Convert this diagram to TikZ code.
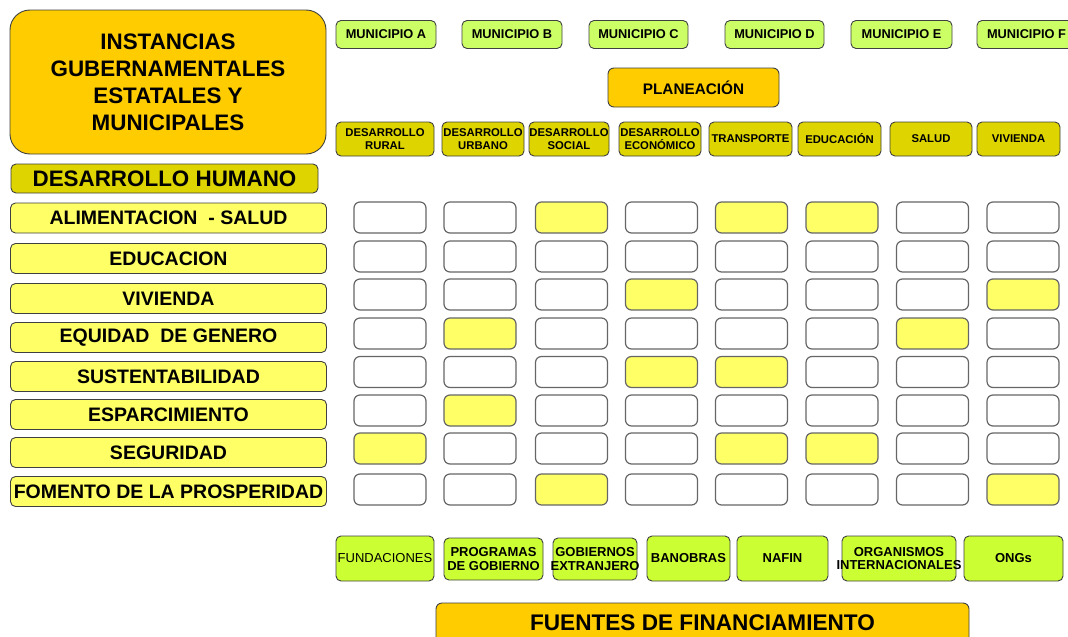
\documentclass[tikz,border=0pt]{standalone}
\usepackage{fontspec}
\setmainfont{Liberation Sans}
\definecolor{naranja}{HTML}{FFCC00}
\definecolor{olivo}{HTML}{DDD400}
\definecolor{amarillo}{HTML}{FFFF66}
\definecolor{lima}{HTML}{CCFF66}
\definecolor{limafuerte}{HTML}{CCFF33}
\newcommand{\desborde}[1]{\makebox[\linewidth]{#1}}

\begin{document}
\begin{tikzpicture}[x=1pt,y=-1pt,
        caja/.style={draw=black!75, line width=0.9pt, rounded corners=5pt, inner sep=0pt, align=center, text=black},
        municipio/.style={caja, fill=lima, minimum width=99pt, minimum height=28pt, font=\bfseries\fontsize{12.8}{14}\selectfont},
        rubro/.style={caja, fill=olivo, minimum height=34pt, font=\bfseries\fontsize{11.3}{12.8}\selectfont},
        tema/.style={caja, fill=amarillo, minimum width=316pt, minimum height=30pt, font=\bfseries\fontsize{19.5}{21}\selectfont},
        celda/.style={draw=black!60, line width=1.2pt, rounded corners=6pt, minimum width=72pt, minimum height=31pt},
        fuente/.style={caja, fill=limafuerte, minimum height=45pt, font=\bfseries\fontsize{13}{13.5}\selectfont}]

        \clip (0,0) rectangle (1068,637);

        \node[caja, fill=naranja, rounded corners=20pt, minimum width=316pt, minimum height=144pt,
            font=\bfseries\fontsize{22.4}{27}\selectfont] (instancias) at (168,82)
            {INSTANCIAS\\GUBERNAMENTALES\\ESTATALES Y\\MUNICIPALES};
        \node[caja, fill=olivo, minimum width=307pt, minimum height=29pt,
            font=\bfseries\fontsize{22.4}{24}\selectfont] (humano) at (164.5,178.5) {DESARROLLO HUMANO};

        \node[municipio, minimum width=100pt] (munA) at (386,34.5) {MUNICIPIO A};
        \node[municipio, minimum width=100pt] (munB) at (512,34.5) {MUNICIPIO B};
        \node[municipio] (munC) at (638.5,34.5) {MUNICIPIO C};
        \node[municipio] (munD) at (774.5,34.5) {MUNICIPIO D};
        \node[municipio, minimum width=101pt] (munE) at (901.5,34.5) {MUNICIPIO E};
        \node[municipio] (munF) at (1026.5,34.5) {MUNICIPIO F};

        \node[caja, fill=naranja, rounded corners=6pt, minimum width=171pt, minimum height=39pt,
            font=\bfseries\fontsize{15.3}{17}\selectfont] (planeacion) at (693.5,87.5) {PLANEACIÓN};

        \node[rubro, minimum width=98pt] (rural) at (385,139) {DESARROLLO\\RURAL};
        \node[rubro, minimum width=82pt] (urbano) at (483,139) {DESARROLLO\\URBANO};
        \node[rubro, minimum width=80pt] (social) at (569,139) {DESARROLLO\\SOCIAL};
        \node[rubro, minimum width=82pt] (economico) at (660,139) {DESARROLLO\\ECONÓMICO};
        \node[rubro, minimum width=83pt] (transporte) at (750.5,139) {TRANSPORTE};
        \node[rubro, minimum width=83pt] (educacion) at (839.5,139) {EDUCACIÓN};
        \node[rubro, minimum width=82pt] (salud) at (931,139) {SALUD};
        \node[rubro, minimum width=83pt] (vivienda) at (1018.5,139) {VIVIENDA};

        \node[tema] (tema1) at (168.5,218) {ALIMENTACION \ - SALUD};
        \node[tema] (tema2) at (168.5,258.5) {EDUCACION};
        \node[tema] (tema3) at (168.5,298.5) {VIVIENDA};
        \node[tema] (tema4) at (168.5,337.5) {EQUIDAD \ DE GENERO};
        \node[tema] (tema5) at (168.5,376.5) {SUSTENTABILIDAD};
        \node[tema] (tema6) at (168.5,414.5) {ESPARCIMIENTO};
        \node[tema] (tema7) at (168.5,452.5) {SEGURIDAD};
        \node[tema] (tema8) at (168.5,491.5) {FOMENTO DE LA PROSPERIDAD};

        \foreach \fila/\yc/\activas in {1/217.5/{3,5,6}, 2/256.5/{0}, 3/294.5/{4,8}, 4/333.5/{2,7},
                5/372/{4,5}, 6/410.5/{2}, 7/448.5/{1,5,6}, 8/489.5/{3,8}}
            \foreach \col/\xc in {1/390, 2/480, 3/571.5, 4/661.5, 5/751.5, 6/842, 7/932.5, 8/1023}
            {
                \gdef\relleno{white}
                \foreach \a in \activas {\ifnum\a=\col\relax \gdef\relleno{amarillo}\fi}
                \node[celda, fill=\relleno] (c\fila\col) at (\xc,\yc) {};
            };

        \node[fuente, minimum width=98pt, font=\fontsize{13}{14}\selectfont] (fundaciones) at (385,558.5) {FUNDACIONES};
        \node[fuente, minimum width=99pt, minimum height=42pt] (programas) at (493.5,559) {PROGRAMAS\\DE GOBIERNO};
        \node[fuente, minimum width=84pt, minimum height=42pt, text width=80pt] (gobiernos) at (595,559)
            {\desborde{GOBIERNOS}\\\desborde{EXTRANJERO}};
        \node[fuente, minimum width=83pt] (banobras) at (688.5,558.5) {BANOBRAS};
        \node[fuente, minimum width=91pt] (nafin) at (782.5,558.5) {NAFIN};
        \node[fuente, minimum width=114pt, text width=110pt] (organismos) at (899,558.5)
            {\desborde{ORGANISMOS}\\\desborde{INTERNACIONALES}};
        \node[fuente, minimum width=99pt] (ongs) at (1013.5,558.5) {ONGs};

        \node[caja, fill=naranja, rounded corners=6pt, minimum width=533pt, minimum height=40pt,
            font=\bfseries\fontsize{22.6}{24}\selectfont] (financiamiento) at (702.5,623) {FUENTES DE FINANCIAMIENTO};
\end{tikzpicture}
\end{document}
